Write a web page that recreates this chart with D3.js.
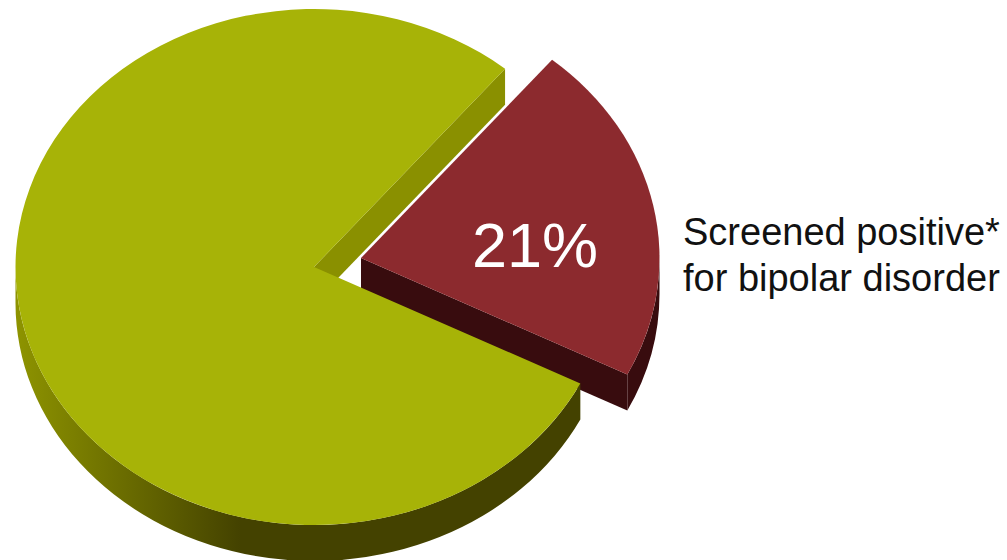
<!DOCTYPE html>
<html>
<head>
<meta charset="utf-8">
<script src="https://cdn.jsdelivr.net/npm/d3@7"></script>
<style>
html,body{margin:0;padding:0;background:#fff;overflow:hidden}
svg{display:block}
text{font-family:"Liberation Sans",Arial,sans-serif}
</style>
</head>
<body>
<script>
const categories = ["Screened positive", "Other"];
const values = [21.4, 78.6];
const valueLabels = ["21%"];
const labelLines = ["Screened positive*", "for bipolar disorder"];

const W = 1007, H = 560;
const cx = 314, cy = 267, rx = 298.5, ry = 258, depth = 36;
const explode = {x: 47, y: -9};
const rotation = 39.8 * Math.PI / 180;

const svg = d3.select("body").append("svg").attr("width", W).attr("height", H);

const defs = svg.append("defs");
const grad = defs.append("linearGradient").attr("id", "oliveWall")
  .attr("gradientUnits", "userSpaceOnUse")
  .attr("x1", 15 - cx).attr("x2", 240 - cx).attr("y1", 0).attr("y2", 0);
grad.append("stop").attr("offset", 0).attr("stop-color", "#8e9400");
grad.append("stop").attr("offset", 1).attr("stop-color", "#444200");

const pie = d3.pie().sort(null).startAngle(rotation).endAngle(rotation + 2 * Math.PI);
const slices = pie(values);
const arc = d3.arc().innerRadius(0).outerRadius(rx);

// angle measured clockwise from 12 o'clock, as d3.arc does
const px = a => rx * Math.sin(a);
const py = a => -ry * Math.cos(a);

function outerWall(a0, a1) {
  const large = a1 - a0 > Math.PI ? 1 : 0;
  return `M${px(a0)},${py(a0)}A${rx},${ry} 0 ${large} 1 ${px(a1)},${py(a1)}` +
         `L${px(a1)},${py(a1) + depth}A${rx},${ry} 0 ${large} 0 ${px(a0)},${py(a0) + depth}Z`;
}
function cutWall(a) {
  return `M0,0L${px(a)},${py(a)}L${px(a)},${py(a) + depth}L0,${depth}Z`;
}

// exploded slice
const red = slices[0];
const gRed = svg.append("g").attr("transform", `translate(${cx + explode.x},${cy + explode.y})`);
gRed.append("path").attr("d", cutWall(red.endAngle)).attr("fill", "#380c0e");
gRed.append("path").attr("d", outerWall(Math.PI / 2, red.endAngle)).attr("fill", "#380c0e");
gRed.append("path").attr("d", arc(red)).attr("transform", `scale(1,${ry / rx})`).attr("fill", "#8c2a2e");

// main slice
const green = slices[1];
const gGreen = svg.append("g").attr("transform", `translate(${cx},${cy})`);
gGreen.append("path").attr("d", cutWall(green.endAngle)).attr("fill", "#8a9000");
gGreen.append("path").attr("d", outerWall(green.startAngle, Math.PI * 1.5))
  .attr("fill", "url(#oliveWall)");
gGreen.append("path").attr("d", arc(green)).attr("transform", `scale(1,${ry / rx})`).attr("fill", "#a7b307");

svg.append("text").attr("x", 535).attr("y", 267).attr("text-anchor", "middle")
  .attr("font-size", 63).attr("fill", "#fff").text(valueLabels[0]);

svg.selectAll("text.lab").data(labelLines).join("text").attr("class", "lab")
  .attr("x", 683).attr("y", (d, i) => 245 + i * 46)
  .attr("font-size", 38).attr("fill", "#111").text(d => d);
</script>
</body>
</html>
